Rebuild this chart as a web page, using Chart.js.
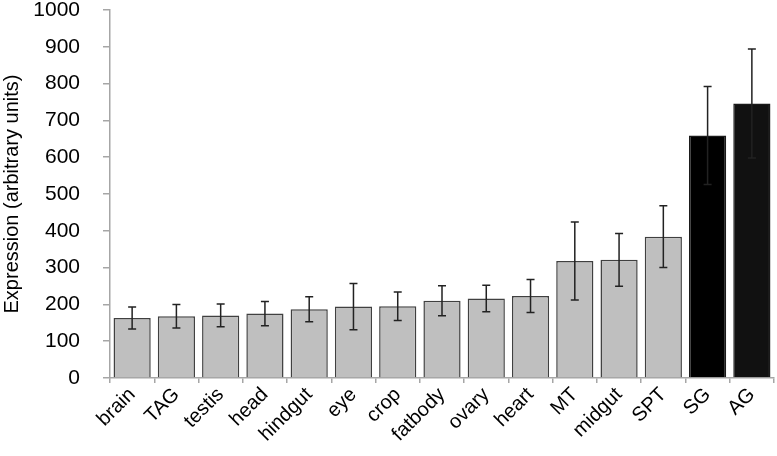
<!DOCTYPE html>
<html>
<head>
<meta charset="utf-8">
<script src="https://cdn.jsdelivr.net/npm/chart.js@4"></script>
<style>
  html, body { margin: 0; padding: 0; background: #fff; }
  #wrap { width: 777px; height: 456px; position: relative; }
</style>
</head>
<body>
<div id="wrap"><canvas id="canvas"></canvas></div>
<script>
// data
var tissues = ['brain', 'TAG', 'testis', 'head', 'hindgut', 'eye', 'crop', 'fatbody', 'ovary', 'heart', 'MT', 'midgut', 'SPT', 'SG', 'AG'];
var expression = [163, 168, 170, 175, 187, 194, 195, 210, 216, 223, 318, 321, 384, 659, 746];
var errors = [30, 32, 31, 33, 34, 63, 39, 41, 36, 45, 106, 72, 84, 133, 148];
var yTicks = [0, 100, 200, 300, 400, 500, 600, 700, 800, 900, 1000];

var barColors = tissues.map(function (t) {
  if (t == 'SG') return '#000000';
  if (t == 'AG') return '#111111';
  return '#bfbfbf';
});
var borderColors = tissues.map(function (t) {
  return (t == 'SG' || t == 'AG') ? '#1a1a1a' : '#404040';
});

// error bars drawn on top of the bars
var errorBars = {
  id: 'errorBars',
  afterDatasetsDraw: function (chart) {
    var ctx = chart.ctx;
    var y = chart.scales.y;
    var meta = chart.getDatasetMeta(0);
    ctx.save();
    ctx.strokeStyle = '#222';
    ctx.lineWidth = 1.5;
    meta.data.forEach(function (bar, i) {
      var top = y.getPixelForValue(expression[i] + errors[i]);
      var bot = y.getPixelForValue(expression[i] - errors[i]);
      var x = bar.x;
      ctx.beginPath();
      ctx.moveTo(x, top); ctx.lineTo(x, bot);
      ctx.moveTo(x - 4, top); ctx.lineTo(x + 4, top);
      ctx.moveTo(x - 4, bot); ctx.lineTo(x + 4, bot);
      ctx.stroke();
    });
    ctx.restore();
  }
};

var canvas = document.getElementById('canvas');
var chart = new Chart(canvas, {
  type: 'bar',
  data: {
    labels: tissues,
    datasets: [{
      data: expression,
      backgroundColor: barColors,
      borderColor: borderColors,
      borderWidth: 1.5,
      categoryPercentage: 1,
      barPercentage: 0.84
    }]
  },
  options: {
    responsive: true,
    maintainAspectRatio: false,
    animation: false,
    layout: { padding: { left: 0, right: 3, top: 10, bottom: 0 } },
    plugins: { legend: { display: false }, tooltip: { enabled: false } },
    scales: {
      x: {
        grid: { display: true, drawOnChartArea: false, offset: true, color: '#a6a6a6', tickLength: 5, lineWidth: 1.5 },
        border: { color: '#a6a6a6', width: 1.5 },
        ticks: {
          color: '#000', autoSkip: false, maxRotation: 45, minRotation: 45, padding: 0,
          font: { family: 'Liberation Sans, Arial, sans-serif', size: 20 }
        },
        afterFit: function (s) { s.height = 78; s.paddingLeft = 0; s.paddingRight = 0; }
      },
      y: {
        min: 0, max: 1000,
        grid: { display: true, drawOnChartArea: false, color: '#a6a6a6', tickLength: 7, lineWidth: 1.5 },
        border: { color: '#a6a6a6', width: 1.5 },
        afterBuildTicks: function (s) { s.ticks = yTicks.map(function (v) { return { value: v }; }); },
        ticks: {
          color: '#000', padding: 23,
          callback: function (v) { return String(v); },
          font: { family: 'Liberation Sans, Arial, sans-serif', size: 21 }
        },
        title: {
          display: true, text: 'Expression (arbitrary units)', color: '#000', padding: 0,
          font: { family: 'Liberation Sans, Arial, sans-serif', size: 20 }
        },
        afterFit: function (s) { s.width = 110; s.paddingTop = 0; s.paddingBottom = 0; }
      }
    }
  },
  plugins: [errorBars]
});
</script>
</body>
</html>
